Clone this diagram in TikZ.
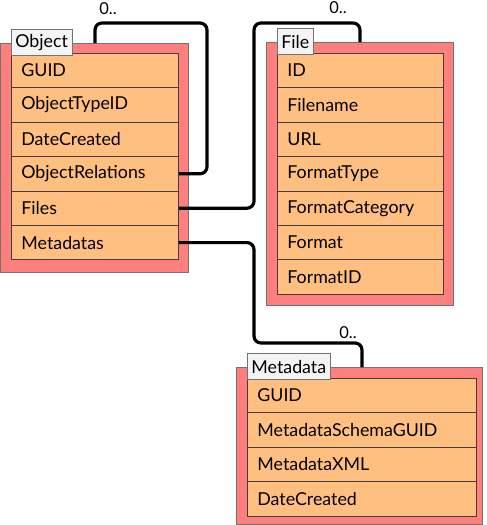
\documentclass[tikz,border=0pt]{standalone}
\usepackage{fontspec}
\setmainfont{Lato}
\usepackage{xcolor}
\usetikzlibrary{positioning}
\definecolor{tablered}{HTML}{FF7F7F}
\definecolor{fieldorange}{HTML}{FFBF80}
\definecolor{tabgray}{HTML}{F4F4F4}

\begin{document}
\begin{tikzpicture}[
  x=1pt, y=-1pt,
  font=\fontsize{17.8}{21}\selectfont,
  table/.style={draw=black!55, fill=tablered, line width=0.8pt, anchor=north west, inner sep=0pt},
  field/.style={draw=black!75, fill=fieldorange, line width=0.8pt, anchor=north west, text width=#1, inner xsep=10pt, minimum height=34.4pt, align=left},
  tab/.style={draw=black!55, fill=tabgray, line width=0.8pt, anchor=south west, inner xsep=4pt, inner ysep=2pt, minimum height=26pt},
  mult/.style={font=\fontsize{16.5}{19}\selectfont},
  link/.style={line width=3.2pt, rounded corners=7pt}
]
\useasboundingbox (0,0) rectangle (487,525);

% Object
\node[table, minimum width=188pt, minimum height=229pt] (obj) at (0,43) {};
\foreach \name [count=\i] in {GUID,ObjectTypeID,DateCreated,ObjectRelations,Files,Metadatas}
  \node[field=147pt] (o\i) at ([shift={(11,{10+(\i-1)*34.4})}]obj.north west) {\name};
\node[tab] (objtab) at ([shift={(0,3)}]o1.north west) {Object};

% File
\node[table, minimum width=187pt, minimum height=263pt] (file) at (266,42) {};
\foreach \name [count=\i] in {ID,Filename,URL,FormatType,FormatCategory,Format,FormatID}
  \node[field=146pt] (f\i) at ([shift={(11,{11+(\i-1)*34.4})}]file.north west) {\name};
\node[tab] (filetab) at ([shift={(0,2)}]f1.north west) {File};

% Metadata
\node[table, minimum width=246pt, minimum height=157pt] (meta) at (236,367) {};
\foreach \name [count=\i] in {GUID,MetadataSchemaGUID,MetadataXML,DateCreated}
  \node[field=209pt] (m\i) at ([shift={(11,{11+(\i-1)*34.4})}]meta.north west) {\name};
\node[tab] (metatab) at ([shift={(0,2)}]m1.north west) {Metadata};

% relations
\draw[link] (o4.east) -| ([shift={(207,-20)}]obj.north west) -| ([xshift=95pt]obj.north west);
\draw[link] (o5.east) -| ([shift={(-12,-19)}]file.north west) -| ([xshift=94pt]file.north west);
\draw[link] (o6.east) -| ([shift={(18,-24)}]meta.north west) -| ([xshift=126pt]meta.north west);

\node[mult] (objmult) at (108,9) {0..};
\node[mult] (filemult) at (338,8) {0..};
\node[mult] (metamult) at (348,333) {0..};
\end{tikzpicture}
\end{document}
